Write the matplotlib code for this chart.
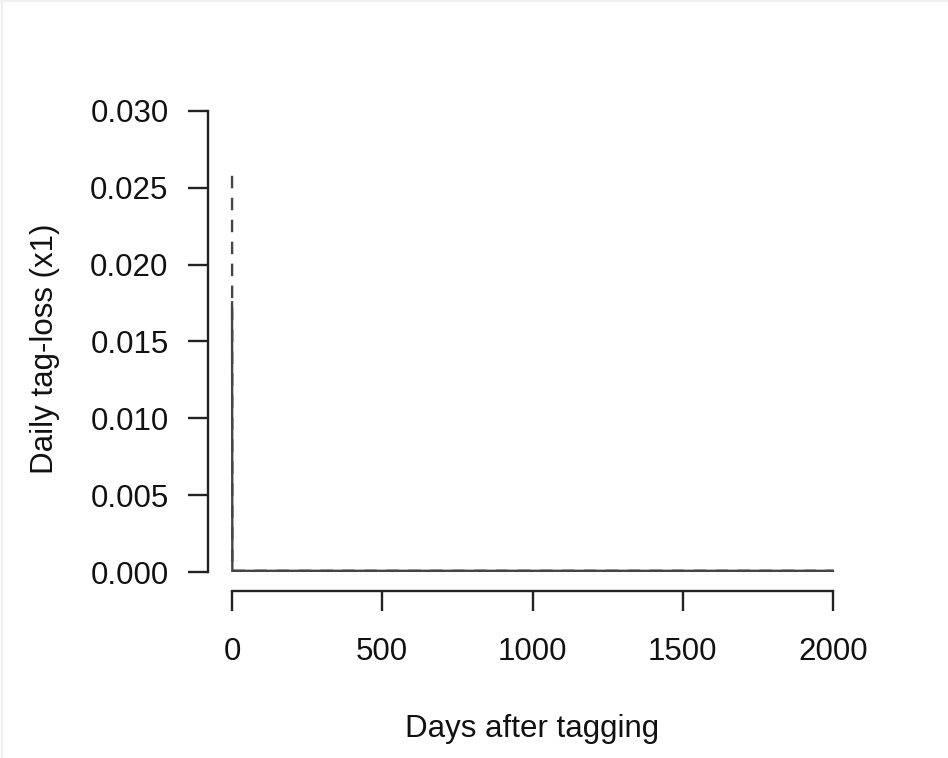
import matplotlib
matplotlib.use("Agg")
import matplotlib.pyplot as plt
from matplotlib.lines import Line2D

# Data
days_solid = [0, 1, 2000]
loss_solid = [0.01755, 0.00008, 0.00008]
days_dashed = [0, 1, 2000]
loss_dashed = [0.02578, 0.00008, 0.00008]

x_ticks = [0, 500, 1000, 1500, 2000]
x_ticklabels = ["0", "500", "1000", "1500", "2000"]
y_ticks = [0.000, 0.005, 0.010, 0.015, 0.020, 0.025, 0.030]
y_ticklabels = ["0.000", "0.005", "0.010", "0.015", "0.020", "0.025", "0.030"]

W, H, DPI = 948, 758, 100
fig = plt.figure(figsize=(W / DPI, H / DPI), dpi=DPI)
fig.patch.set_facecolor("white")
plt.rcParams["font.family"] = ["Liberation Sans", "DejaVu Sans"]

left_px, right_px = 208, 857
top_px, bottom_px = 92.5, 590.5
ax = fig.add_axes([left_px / W, 1 - bottom_px / H,
                   (right_px - left_px) / W, (bottom_px - top_px) / H])
ax.set_xlim(-80, 2080)
ax.set_ylim(-0.0012, 0.0312)

line_col = "#454545"
ax.plot(days_solid, loss_solid, color=line_col, lw=1.7, solid_joinstyle="miter")
ax.plot(days_dashed, loss_dashed, color=line_col, lw=1.7,
        linestyle=(0, (5.3, 4.0)))

for s in ["top", "right"]:
    ax.spines[s].set_visible(False)
ax.spines["left"].set_bounds(0, 0.030)
ax.spines["bottom"].set_bounds(0, 2000)
for s in ["left", "bottom"]:
    ax.spines[s].set_linewidth(1.7)
    ax.spines[s].set_color("#222222")

ax.set_xticks(x_ticks)
ax.set_xticklabels(x_ticklabels)
ax.set_yticks(y_ticks)
ax.set_yticklabels(y_ticklabels)
ax.tick_params(axis="both", direction="out", length=14.4, width=1.7,
               color="#222222", labelsize=22.5, labelcolor="#111111")
ax.tick_params(axis="y", pad=14.0)
ax.tick_params(axis="x", pad=19.0)
ax.set_facecolor("white")

fig.text(532 / W, 1 - 737 / H, "Days after tagging", ha="center",
         va="baseline", fontsize=22.5, color="#111111")
fig.text(45 / W, 1 - 349 / H, "Daily tag-loss (x1)", ha="center",
         va="center", rotation=90, fontsize=22.5, color="#111111")

# faint screenshot border
fig.add_artist(Line2D([0, 1], [1 - 0.5 / H, 1 - 0.5 / H], transform=fig.transFigure,
                      color="#f0f0f0", lw=1.5))
fig.add_artist(Line2D([1.5 / W, 1.5 / W], [0, 1], transform=fig.transFigure,
                      color="#f0f0f0", lw=1.5))

fig.savefig("out.png", dpi=DPI)
